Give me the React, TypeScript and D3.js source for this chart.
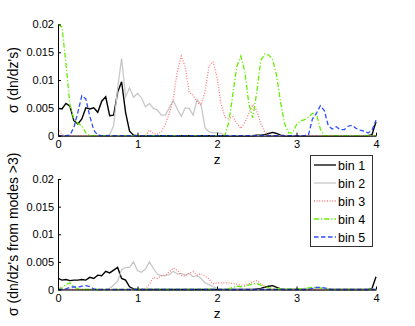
import React, { useEffect, useRef } from "react";
import * as d3 from "d3";

// samples every 0.05 in z, from 0 to 4
const Z_STEP = 0.05;

const binNames = ["bin 1", "bin 2", "bin 3", "bin 4", "bin 5"];

// top panel: sigma (dn/dz's)
const topBin1 = [
  0.0049, 0.0048, 0.0058, 0.0053, 0.0027, 0.0021, 0.0030, 0.0050, 0.0048, 0.0050,
  0.0042, 0.0062, 0.0070, 0.0036, 0.0037, 0.0078, 0.0097, 0.0042, 0.0008, 0.0001,
  0, 0, 0, 0, 0, 0, 0, 0, 0, 0,
  0, 0, 0, 0, 0, 0, 0, 0, 0, 0,
  0, 0, 0, 0, 0, 0, 0, 0, 0, 0,
  0.0001, 0.0001, 0.0002, 0.0004, 0.0006, 0.0004, 0.0001, 0, 0, 0,
  0, 0, 0, 0, 0, 0, 0, 0, 0, 0,
  0, 0, 0, 0, 0, 0, 0, 0, 0, 0.0002,
  0.0025,
];
const topBin2 = [
  0, 0, 0, 0, 0, 0, 0, 0, 0, 0,
  0, 0, 0, 0.0002, 0.0018, 0.0085, 0.0139, 0.0070, 0.0086, 0.0069,
  0.0076, 0.0068, 0.0052, 0.0058, 0.0049, 0.0046, 0.0037, 0.0037, 0.0050, 0.0063,
  0.0048, 0.0035, 0.0050, 0.0049, 0.0037, 0.0065, 0.0055, 0.0014, 0.0007, 0.0005,
  0.0005, 0.0004, 0.0001, 0, 0, 0, 0, 0, 0, 0,
  0, 0, 0, 0, 0, 0, 0, 0, 0, 0,
  0, 0, 0, 0, 0, 0, 0, 0, 0, 0,
  0, 0, 0, 0, 0, 0, 0, 0, 0, 0,
  0,
];
const topBin3 = [
  0.0013, 0.0002, 0, 0, 0, 0, 0, 0, 0, 0,
  0, 0, 0, 0, 0, 0, 0, 0, 0, 0,
  0, 0, 0, 0.0010, 0.0004, 0.0003, 0.0007, 0.0020, 0.0040, 0.0066,
  0.0115, 0.0143, 0.0124, 0.0078, 0.0073, 0.0060, 0.0055, 0.0080, 0.0125, 0.0133,
  0.0105, 0.0058, 0.0033, 0.0031, 0.0034, 0.0022, 0.0013, 0.0024, 0.0040, 0.0056,
  0.0045, 0.0022, 0.0007, 0.0001, 0, 0, 0, 0, 0, 0,
  0, 0, 0, 0, 0, 0, 0, 0, 0, 0,
  0, 0, 0, 0, 0, 0, 0, 0, 0, 0,
  0,
];
const topBin4 = [
  0.0200, 0.0195, 0.0130, 0.0055, 0.0030, 0.0022, 0.0018, 0.0005, 0, 0,
  0, 0, 0, 0, 0, 0, 0, 0, 0, 0,
  0, 0, 0, 0, 0, 0, 0, 0, 0, 0,
  0, 0, 0, 0, 0, 0, 0, 0, 0, 0,
  0, 0, 0, 0.0025, 0.0075, 0.0125, 0.0143, 0.0115, 0.0058, 0.0032,
  0.0078, 0.0135, 0.0147, 0.0145, 0.0137, 0.0108, 0.0060, 0.0022, 0.0005, 0.0005,
  0.0020, 0.0026, 0.0029, 0.0033, 0.0040, 0.0040, 0.0012, 0, 0, 0,
  0, 0, 0, 0, 0, 0, 0, 0, 0, 0,
  0,
];
const topBin5 = [
  0, 0, 0, 0.0001, 0.0015, 0.0042, 0.0072, 0.0066, 0.0035, 0.0010,
  0.0001, 0, 0, 0, 0, 0, 0, 0, 0, 0,
  0, 0, 0, 0, 0, 0, 0, 0, 0, 0,
  0, 0, 0, 0, 0, 0, 0, 0, 0, 0,
  0, 0, 0, 0, 0, 0, 0, 0, 0, 0,
  0, 0, 0, 0, 0, 0, 0, 0, 0, 0,
  0, 0, 0, 0.0001, 0.0030, 0.0040, 0.0054, 0.0045, 0.0018, 0.0012,
  0.0016, 0.0011, 0.0011, 0.0017, 0.0019, 0.0013, 0.0010, 0.0008, 0.0005, 0.0010,
  0.0028,
];

// bottom panel: sigma (dn/dz's from modes >3)
const botBin1 = [
  0.0020, 0.0017, 0.0018, 0.0016, 0.0017, 0.0017, 0.0018, 0.0017, 0.0022, 0.0020,
  0.0026, 0.0025, 0.0033, 0.0030, 0.0035, 0.0040, 0.0020, 0.0017, 0.0005, 0.0001,
  0, 0, 0, 0, 0, 0, 0, 0, 0, 0,
  0, 0, 0, 0, 0, 0, 0, 0, 0, 0,
  0, 0, 0, 0, 0, 0, 0, 0, 0, 0,
  0.0001, 0.0002, 0.0004, 0.0006, 0.0007, 0.0004, 0.0001, 0, 0, 0,
  0, 0, 0, 0, 0, 0, 0, 0, 0, 0,
  0, 0, 0, 0, 0, 0, 0, 0, 0, 0.0002,
  0.0023,
];
const botBin2 = [
  0, 0, 0, 0, 0, 0, 0, 0, 0, 0,
  0, 0, 0, 0.0002, 0.0008, 0.0015, 0.0036, 0.0040, 0.0040, 0.0050,
  0.0034, 0.0031, 0.0037, 0.0050, 0.0038, 0.0028, 0.0025, 0.0025, 0.0027, 0.0033,
  0.0028, 0.0029, 0.0026, 0.0029, 0.0023, 0.0025, 0.0020, 0.0012, 0.0009, 0.0005,
  0.0002, 0.0001, 0, 0, 0, 0, 0, 0, 0, 0,
  0, 0, 0, 0, 0, 0, 0, 0, 0, 0,
  0, 0, 0, 0, 0, 0, 0, 0, 0, 0,
  0, 0, 0, 0, 0, 0, 0, 0, 0, 0,
  0,
];
const botBin3 = [
  0.0008, 0.0001, 0, 0, 0, 0, 0, 0, 0, 0,
  0, 0, 0, 0, 0, 0, 0, 0, 0, 0,
  0, 0, 0.0001, 0.0010, 0.0022, 0.0020, 0.0025, 0.0026, 0.0032, 0.0039,
  0.0035, 0.0026, 0.0024, 0.0030, 0.0032, 0.0026, 0.0029, 0.0024, 0.0019, 0.0010,
  0.0012, 0.0012, 0.0012, 0.0012, 0.0011, 0.0010, 0.0008, 0.0008, 0.0010, 0.0014,
  0.0016, 0.0011, 0.0005, 0.0002, 0, 0, 0, 0, 0, 0,
  0, 0, 0, 0, 0, 0, 0, 0, 0, 0,
  0, 0, 0, 0, 0, 0, 0, 0, 0, 0,
  0,
];
const botBin4 = [
  0, 0.0003, 0.0009, 0.0012, 0.0005, 0.0001, 0, 0, 0, 0,
  0, 0, 0, 0, 0, 0, 0, 0, 0, 0,
  0, 0, 0, 0, 0, 0, 0, 0, 0, 0,
  0, 0, 0, 0, 0, 0, 0, 0, 0, 0,
  0, 0, 0, 0.0001, 0.0004, 0.0006, 0.0005, 0.0006, 0.0008, 0.0010,
  0.0011, 0.0008, 0.0006, 0.0003, 0.0002, 0.0002, 0.0001, 0.0001, 0.0001, 0.0001,
  0.0001, 0.0001, 0.0002, 0.0003, 0.0004, 0.0004, 0.0003, 0.0001, 0, 0,
  0, 0, 0, 0, 0, 0, 0, 0, 0, 0,
  0,
];
const botBin5 = [
  0, 0, 0.0001, 0.0004, 0.0005, 0.0004, 0.0006, 0.0007, 0.0005, 0.0001,
  0, 0, 0, 0, 0, 0, 0, 0, 0, 0,
  0, 0, 0, 0, 0, 0, 0, 0, 0, 0,
  0, 0, 0, 0, 0, 0, 0, 0, 0, 0,
  0, 0, 0, 0, 0, 0, 0, 0, 0, 0,
  0, 0, 0, 0, 0, 0, 0, 0, 0, 0,
  0, 0, 0, 0, 0.0002, 0.0004, 0.0004, 0.0003, 0.0001, 0,
  0, 0, 0, 0, 0, 0, 0, 0, 0, 0,
  0,
];

const xTicks = [0, 1, 2, 3, 4];
const yTicks = [0, 0.005, 0.01, 0.015, 0.02];
const yTickLabels = ["0", "0.005", "0.01", "0.015", "0.02"];

const colors = ["#000000", "#c8c8c8", "#ff7a7a", "#66ee00", "#2f4dff"];
const dashes = ["none", "none", "1,1.6", "5,2,1.2,2", "4.5,2.5"];
const FONT = "'Liberation Sans', Arial, Helvetica, sans-serif";

function App() {
  const ref = useRef<SVGSVGElement>(null);

  useEffect(() => {
    const svg = d3.select(ref.current);
    svg.selectAll("*").remove();

    const left = 58, right = 376;
    const x = d3.scaleLinear().domain([0, 4]).range([left, right]);

    const drawPanel = (top: number, bottom: number, series: number[][], ylabel: string) => {
      const y = d3.scaleLinear().domain([0, 0.02]).range([bottom, top]);
      const g = svg.append("g");

      const line = d3.line<number>()
        .x((d, i) => x(i * Z_STEP))
        .y(d => y(d));

      series.forEach((vals, k) => {
        g.append("path")
          .datum(vals)
          .attr("d", line)
          .attr("fill", "none")
          .attr("stroke", colors[k])
          .attr("stroke-width", k === 0 ? 1.4 : 1.3)
          .attr("stroke-dasharray", dashes[k]);
      });

      const xAxis = g.append("g")
        .attr("transform", `translate(0,${bottom})`)
        .call(d3.axisBottom(x).tickValues(xTicks).tickFormat(d => String(d))
          .tickSizeInner(-3).tickSizeOuter(0).tickPadding(5));
      const yAxis = g.append("g")
        .attr("transform", `translate(${left},0)`)
        .call(d3.axisLeft(y).tickValues(yTicks).tickFormat((d, i) => yTickLabels[i])
          .tickSizeInner(-3).tickSizeOuter(0).tickPadding(4));

      [xAxis, yAxis].forEach(a => {
        a.selectAll("text").attr("font-family", FONT).attr("font-size", 11).attr("fill", "#000");
        a.selectAll("path,line").attr("stroke", "#000").attr("stroke-width", 1);
      });

      g.append("text")
        .attr("x", (left + right) / 2)
        .attr("y", bottom + 28)
        .attr("text-anchor", "middle")
        .attr("font-family", FONT)
        .attr("font-size", 13.5)
        .text("z");

      g.append("text")
        .attr("transform", `translate(17.5,${(top + bottom) / 2}) rotate(-90)`)
        .attr("text-anchor", "middle")
        .attr("font-family", FONT)
        .attr("font-size", 14)
        .text(ylabel);
    };

    drawPanel(24.4, 135.7, [topBin1, topBin2, topBin3, topBin4, topBin5], "σ (dn/dz's)");
    drawPanel(179, 289.5, [botBin1, botBin2, botBin3, botBin4, botBin5], "σ (dn/dz's from modes >3)");

    // legend
    const lg = svg.append("g");
    lg.append("rect")
      .attr("x", 310.5).attr("y", 155.5)
      .attr("width", 62).attr("height", 91)
      .attr("fill", "#fff").attr("stroke", "#333").attr("stroke-width", 1);
    binNames.forEach((name, k) => {
      const yy = 165 + k * 18;
      lg.append("line")
        .attr("x1", 314).attr("x2", 336).attr("y1", yy).attr("y2", yy)
        .attr("stroke", colors[k]).attr("stroke-width", 1.3)
        .attr("stroke-dasharray", dashes[k]);
      lg.append("text")
        .attr("x", 338).attr("y", yy + 4.5)
        .attr("font-family", FONT).attr("font-size", 12.5)
        .text(name);
    });
  }, []);

  return (
    <svg ref={ref} width={415} height={326}
      style={{ position: "absolute", left: 0, top: 0, background: "#fff" }} />
  );
}

export default App;
